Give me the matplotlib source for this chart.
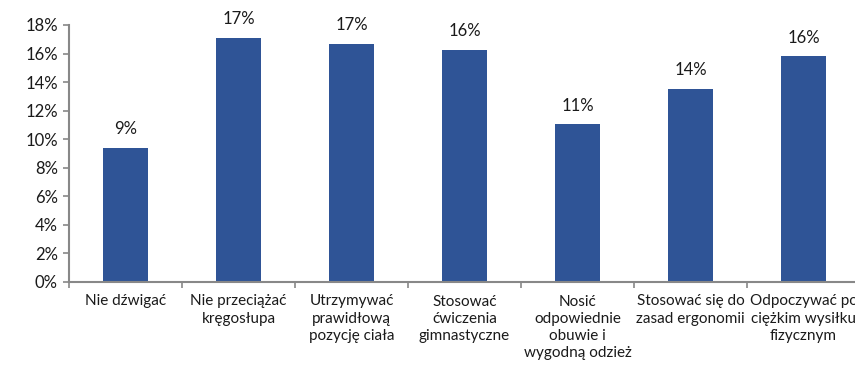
import matplotlib
matplotlib.use("Agg")
import matplotlib.pyplot as plt
from matplotlib.ticker import FuncFormatter, MultipleLocator, FixedLocator

categories = [
    "Nie dźwigać",
    "Nie przeciążać\nkręgosłupa",
    "Utrzymywać\nprawidłową\npozycję ciała",
    "Stosować\nćwiczenia\ngimnastyczne",
    "Nosić\nodpowiednie\nobuwie i\nwygodną odzież",
    "Stosować się do\nzasad ergonomii",
    "Odpoczywać po\nciężkim wysiłku\nfizycznym",
]
values = [9.4, 17.1, 16.7, 16.25, 11.05, 13.55, 15.8]
value_labels = ["9%", "17%", "17%", "16%", "11%", "14%", "16%"]

plt.rcParams['font.family'] = ['Lato', 'DejaVu Sans']

fig = plt.figure(figsize=(8.55, 3.68), dpi=100)
ax = fig.add_axes([69/855, 86/368, 791/855, 257/368])

x = list(range(len(categories)))
bars = ax.bar(x, values, width=0.39, color='#2f5496', zorder=2)
for xi, v, lab in zip(x, values, value_labels):
    ax.text(xi, v + 0.75, lab, ha='center', va='bottom', fontsize=12, color='#1a1a1a')

ax.set_xlim(-0.5, 6.5)
ax.set_ylim(0, 18)
ax.yaxis.set_major_locator(MultipleLocator(2))
ax.yaxis.set_major_formatter(FuncFormatter(lambda v, p: f"{int(round(v))}%"))

ax.set_xticks(x)
ax.set_xticklabels(categories, fontsize=11, color='#1a1a1a', linespacing=1.3)
ax.xaxis.set_minor_locator(FixedLocator([i + 0.5 for i in range(-1, 7)]))
ax.tick_params(axis='x', which='major', length=0, pad=9)
ax.tick_params(axis='x', which='minor', length=4, color='#888888', width=1.2)
ax.tick_params(axis='y', length=4, color='#888888', width=1.2, labelsize=12, labelcolor='#1a1a1a', pad=4)

for s in ['top', 'right']:
    ax.spines[s].set_visible(False)
for s in ['left', 'bottom']:
    ax.spines[s].set_color('#888888')
    ax.spines[s].set_linewidth(1.5)

fig.savefig('out.png', dpi=100)
